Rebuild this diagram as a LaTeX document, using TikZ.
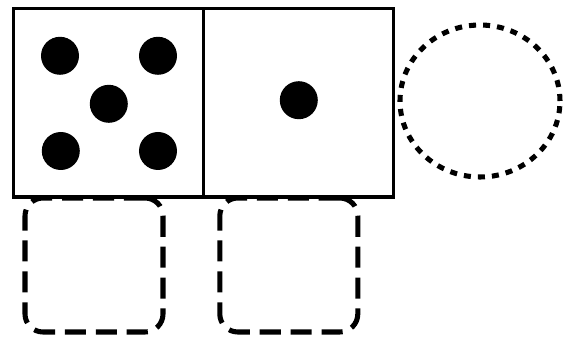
\documentclass[tikz,border=0pt]{standalone}
\usetikzlibrary{shapes.geometric,positioning}
\begin{document}
\begin{tikzpicture}[
    face/.style={draw,line width=2.2pt,minimum width=4.75cm,minimum height=4.72cm,inner sep=0pt,outer sep=0pt},
    slot/.style={draw,line width=3.6pt,dash pattern=on 15pt off 7pt,rounded corners=0.45cm,
                 minimum width=3.45cm,minimum height=3.35cm,inner sep=0pt},
    ring/.style={draw,ellipse,line width=3.6pt,dash pattern=on 5pt off 5pt,
                 minimum width=4cm,minimum height=3.8cm,inner sep=0pt}]
  \useasboundingbox (0,0) rectangle (14.1,8.425);
  \node[face] (five) at (2.71,5.86) {};
  \node[face,right=0pt of five] (one) {};
  \node[ring] (blank) at (12,5.9) {};
  \node[slot] (slotA) at (2.35,1.8) {};
  \node[slot] (slotB) at (7.22,1.8) {};
  \foreach \point in {(1.5,7.03),(3.95,7.03),(2.72,5.83),(1.52,4.65),(3.95,4.65),(7.47,5.92)}
    \fill \point circle (0.475);
\end{tikzpicture}
\end{document}
